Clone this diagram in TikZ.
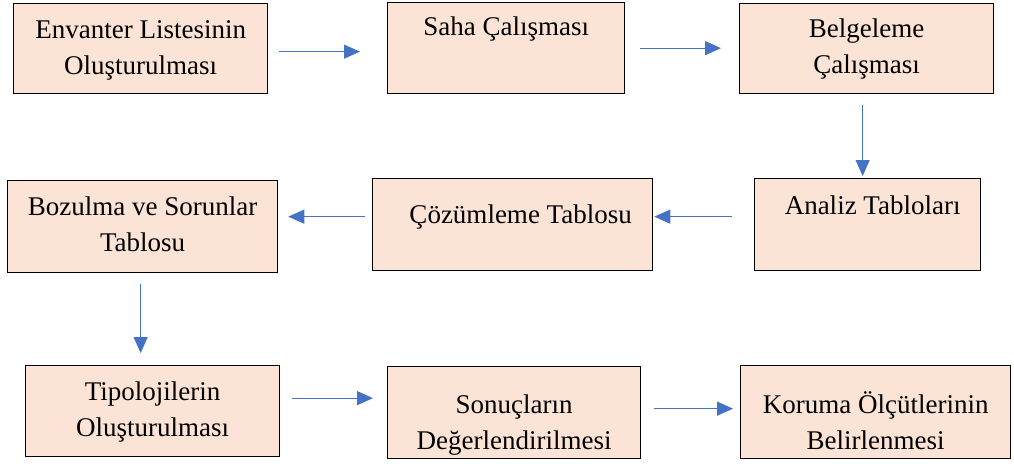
\documentclass[tikz,border=0pt]{standalone}
\usepackage{fontspec}
\setmainfont{Liberation Serif}
\newfontfamily\kutufont{Liberation Serif}
\usetikzlibrary{arrows.meta}
\definecolor{kuturenk}{HTML}{FBE4D5}
\definecolor{okrenk}{HTML}{4472C4}
% width, height, first baseline, text
\newcommand{\kutu}[4]{\parbox[c][#2][t]{#1}{\centering\rule{0pt}{#3}#4\par}}

\begin{document}
\begin{tikzpicture}[x=1pt,y=-1pt]


\tikzset{
  KutuStyle/.style = { draw, line width=1.3pt, fill=kuturenk,
                       inner sep=0pt, anchor=north west,
                       font=\kutufont\fontsize{27}{36}\selectfont },
  OkStyle/.style = { -{Triangle[length=16pt,width=14pt]},
                     color=okrenk, line width=1.2pt } }
  \useasboundingbox (0,0) rectangle (1014,463);

  \node[KutuStyle] (env) at (13,3) {\kutu{254pt}{90pt}{35pt}{Envanter Listesinin\\Oluşturulması}};
  \node[KutuStyle] (saha) at (387,2) {\kutu{237pt}{91pt}{33pt}{Saha Çalışması}};
  \node[KutuStyle] (belge) at (739,3) {\kutu{254pt}{90pt}{34pt}{Belgeleme\\Çalışması}};

  \node[KutuStyle] (analiz) at (754,178) {\kutu{226pt}{92pt}{36pt}{Analiz Tabloları\hspace*{-10pt}}};
  \node[KutuStyle] (cozum) at (372,178) {\kutu{280pt}{92pt}{45pt}{Çözümleme Tablosu\hspace*{-16pt}}};
  \node[KutuStyle] (bozulma) at (7,180) {\kutu{270pt}{92pt}{35pt}{Bozulma ve Sorunlar\\Tablosu}};

  \node[KutuStyle] (tipo) at (25,365) {\kutu{254pt}{91pt}{35pt}{Tipolojilerin\\Oluşturulması}};
  \node[KutuStyle] (sonuc) at (387,366) {\kutu{253pt}{92pt}{47pt}{Sonuçların\\Değerlendirilmesi}};
  \node[KutuStyle] (koruma) at (740,365) {\kutu{270pt}{93pt}{48pt}{Koruma Ölçütlerinin\\Belirlenmesi}};

  % first row
  \draw[OkStyle, shorten <=11pt, shorten >=27pt] ([yshift=-3pt]env.east) -- ([yshift=-3pt]env.east -| saha.west);
  \draw[OkStyle, shorten <=15pt, shorten >=18pt] (saha.east) -- (saha.east -| belge.west);
  \draw[OkStyle, shorten <=11pt, shorten >=2pt] ([xshift=-4pt]belge.south) -- ([xshift=-4pt]belge.south |- analiz.north);

  % second row
  \draw[OkStyle, shorten <=22pt, shorten >=1pt] ([yshift=8pt]analiz.west) -- ([yshift=8pt]analiz.west -| cozum.east);
  \draw[OkStyle, shorten <=7pt, shorten >=10pt] ([yshift=8pt]cozum.west) -- ([yshift=8pt]cozum.west -| bozulma.east);
  \draw[OkStyle, shorten <=11pt, shorten >=12pt] ([xshift=-2pt]bozulma.south) -- ([xshift=-2pt]bozulma.south |- tipo.north);

  % third row
  \draw[OkStyle, shorten <=12pt, shorten >=14pt] ([yshift=13pt]tipo.east) -- ([yshift=13pt]tipo.east -| sonuc.west);
  \draw[OkStyle, shorten <=13pt, shorten >=7pt] ([yshift=4pt]sonuc.east) -- ([yshift=4pt]sonuc.east -| koruma.west);

\end{tikzpicture}
\end{document}
